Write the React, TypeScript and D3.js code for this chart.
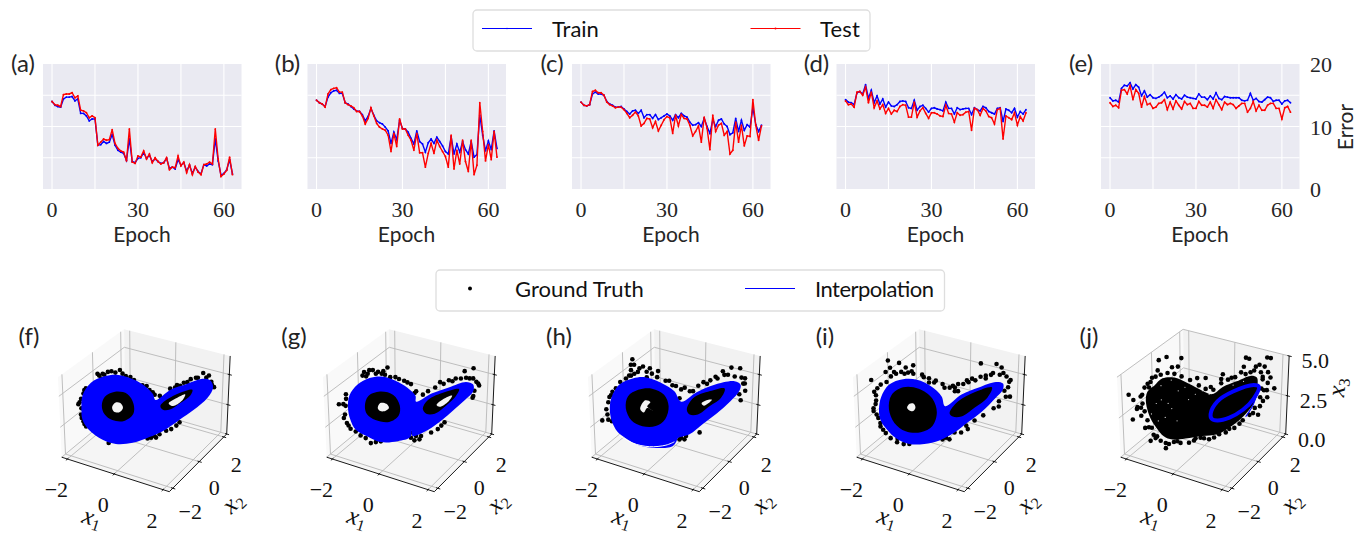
import React from 'react';
import * as d3 from 'd3';

const SANS = 'Lato, "Open Sans", "Noto Sans", sans-serif';
const SERIF = '"Liberation Serif", serif';

// ---------- Error curves, one value per epoch ----------
const trainA = [14.0,13.4,13.2,13.1,14.4,14.7,14.7,14.8,14.1,14.4,12.1,12.1,11.7,10.9,11.2,11.2,7.0,7.1,7.6,7.3,7.5,8.7,7.0,6.2,5.9,5.7,4.6,8.0,4.4,4.2,4.9,5.0,5.8,4.9,5.4,4.4,4.8,4.4,4.1,4.2,4.9,3.3,3.5,3.2,4.7,3.8,4.2,2.9,3.8,2.5,3.5,2.8,2.4,3.9,3.7,4.0,3.9,8.0,4.5,2.2,2.5,3.1,4.7,2.4];
const testA = [14.0,13.5,13.4,13.2,15.1,15.2,15.2,15.4,14.6,14.9,12.6,12.5,12.2,11.4,11.7,11.4,7.0,7.5,8.0,7.8,7.9,9.5,7.3,6.5,6.1,5.9,4.5,9.6,4.3,4.1,5.3,5.1,6.1,4.8,5.6,4.2,5.0,4.4,4.0,4.2,5.0,3.1,3.5,3.4,5.3,3.7,4.3,2.6,3.9,2.3,3.6,2.7,2.3,3.9,4.0,4.3,4.0,9.6,4.8,2.0,2.4,3.0,5.1,2.3];
const trainB = [14.2,13.8,13.6,13.2,14.7,15.4,15.7,15.8,15.3,15.3,13.8,13.6,13.2,12.8,12.5,12.4,11.9,10.9,11.6,12.9,11.8,10.9,10.6,10.4,9.9,9.3,7.3,9.1,7.9,11.0,9.7,9.6,9.1,8.1,7.2,9.3,7.6,7.2,5.9,7.4,8.0,7.3,8.3,7.6,6.9,6.0,5.6,8.4,5.6,7.2,5.9,7.6,6.3,5.6,7.6,5.1,5.5,11.8,8.6,6.1,7.7,6.3,9.3,6.5];
const testB = [14.2,13.8,13.6,13.1,15.2,15.9,16.1,16.2,15.5,15.5,13.8,13.5,13.3,13.0,12.4,12.4,11.7,10.4,11.3,13.0,11.7,10.5,9.9,9.6,9.4,8.6,6.0,8.9,6.8,11.2,9.6,9.6,8.6,7.8,6.2,8.9,5.8,5.8,3.5,5.7,7.3,5.7,7.8,6.8,6.0,5.2,3.5,8.6,3.2,6.2,4.0,7.8,4.4,2.8,7.8,2.3,3.8,13.8,9.2,4.5,7.1,4.7,9.2,5.1];
const trainC = [13.9,13.4,13.3,13.5,15.2,15.5,15.2,15.2,15.0,14.0,13.6,13.4,13.1,13.1,13.2,12.8,12.4,12.0,12.5,12.6,12.1,12.6,11.4,11.9,11.9,11.3,11.9,11.1,11.4,11.7,12.0,11.7,11.0,11.9,11.4,12.1,11.7,11.5,10.7,10.2,10.3,10.6,10.0,11.3,10.0,8.9,11.1,10.0,11.0,11.2,10.4,10.0,8.7,9.0,11.3,9.2,11.0,9.4,10.3,9.9,13.0,10.3,9.2,10.2];
const testC = [13.9,13.4,13.3,13.5,15.6,15.8,15.4,15.4,15.0,13.9,13.5,13.3,13.0,13.1,13.1,12.7,12.1,11.4,11.8,12.3,11.7,10.1,10.5,11.3,11.2,9.8,10.8,9.3,10.2,11.1,11.6,11.4,8.9,11.8,10.1,11.9,11.3,11.2,10.2,8.5,9.2,10.1,7.5,11.5,9.7,6.3,11.8,9.2,10.2,10.5,8.6,9.2,5.6,6.2,10.7,7.5,10.2,6.9,8.5,8.4,14.3,10.2,7.8,10.1];
const trainD = [14.3,13.9,13.8,13.5,15.4,15.6,15.2,16.7,14.5,15.8,13.8,14.9,13.6,14.4,13.1,13.9,13.3,13.2,13.5,14.0,14.1,14.0,13.0,12.9,14.2,12.6,13.2,13.4,12.9,12.3,12.9,13.0,12.8,12.7,12.5,13.9,12.9,12.9,12.0,13.0,12.7,12.8,12.9,12.9,11.9,13.0,12.7,12.5,13.2,13.0,12.4,12.2,12.0,12.9,13.0,10.8,12.8,12.6,12.2,12.9,11.5,12.4,12.0,12.7];
const testD = [14.1,13.5,13.6,13.1,15.5,15.6,15.0,16.3,13.8,15.5,13.0,14.1,12.8,13.5,12.1,12.9,12.0,12.6,12.4,13.2,13.5,13.4,11.5,11.5,13.9,11.5,12.5,13.0,12.1,11.3,12.2,12.2,12.0,11.7,11.6,13.4,12.1,12.0,10.7,12.2,11.8,11.9,12.3,12.4,9.4,12.9,12.7,11.8,12.9,12.5,11.6,11.4,10.4,12.7,12.9,8.0,11.7,11.4,11.1,12.2,10.2,11.6,10.9,12.2];
const trainE = [14.6,14.1,14.2,13.9,16.1,16.6,16.5,17.0,16.0,16.7,16.3,14.9,15.7,14.7,15.1,14.6,14.5,14.7,15.0,15.5,14.6,14.9,14.4,15.1,14.6,14.4,15.0,14.7,14.6,14.5,14.4,15.2,14.7,14.7,14.3,14.9,14.4,15.4,14.5,14.3,14.8,14.7,14.6,14.6,14.6,14.6,14.2,14.1,14.2,15.3,14.2,14.5,14.0,13.9,14.3,14.7,14.6,14.0,14.2,14.2,13.6,14.1,14.2,13.8];
const testE = [13.8,13.2,13.4,13.0,15.8,15.9,15.2,16.5,14.3,15.9,15.3,13.1,14.8,13.5,13.7,12.9,13.1,13.7,13.8,14.3,12.7,13.9,12.8,14.1,13.4,12.8,14.0,13.5,13.7,12.9,12.9,14.0,13.4,13.4,13.1,13.9,12.9,14.3,13.5,12.7,13.9,13.5,13.7,13.5,12.9,13.3,13.7,13.7,12.3,12.9,14.0,12.5,13.4,12.6,12.6,13.4,13.7,13.7,12.9,12.9,11.2,13.0,13.2,12.3];

const errorPanels = [
  { label: '(a)', train: trainA, test: testA },
  { label: '(b)', train: trainB, test: testB },
  { label: '(c)', train: trainC, test: testC },
  { label: '(d)', train: trainD, test: testD },
  { label: '(e)', train: trainE, test: testE },
];
const epochGrid = [0, 15, 30, 45, 60];
const epochLabels = [0, 30, 60];
const errorGrid = [5, 10, 15];
const errorLabels = [0, 10, 20];

// ---------- Attractor readings as [x1, x3] pairs, on the attractor's tilted sheet ----------
const fOuter = [[-2.01,3.09],[-1.96,4.23],[-1.69,5.23],[-1.27,5.74],[-.89,5.86],[-.47,5.57],[-.10,5.09],[.22,4.31],[.31,3.80],[.76,4.60],[1.29,5.09],[1.71,5.46],[1.98,5.37],[2.09,4.80],[1.93,3.94],[1.50,2.94],[1.07,2.14],[.65,1.37],[.12,.71],[-.41,.23],[-.95,.14],[-1.37,.51],[-1.80,1.37],[-1.99,2.23]];
const fHoleL = [[-1.37,3.37],[-1.27,4.09],[-.95,4.49],[-.57,4.31],[-.38,3.51],[-.39,2.66],[-.68,2.09],[-1.05,2.17],[-1.29,2.66]];
const fVoidL = [[-1.05,3.23],[-.95,3.6],[-.79,3.57],[-.71,3.17],[-.84,2.8],[-1,2.89]];
const fHoleR = [[.46,3.29],[.65,3.8],[1.07,4.37],[1.45,4.6],[1.39,4.14],[1.07,3.51],[.76,3.0],[.54,3.0]];
const fVoidR = [[.72,3.51],[.97,3.94],[1.23,4.23],[1.13,3.71],[.86,3.29]];
const fTruth = [[-1.43,5.8],[-1.32,5.94],[-1.16,6.09],[-1.05,6.14],[-.79,6.23],[-.71,5.94],[-.47,5.66],[-1.37,5.57],[-1.9,4.66],[-2.01,3.94],[-2.1,3.51],[-2.03,2.66],[-1.96,2.09],[-1.93,1.86],[-.1,5],[.12,4.6],[.22,4.43],[1.77,5.94],[1.95,5.74],[1.61,5.57],[1.39,5.46],[1.18,5.17],[1.07,4.94],[.91,4.8],[2.03,5.23],[2.12,4.8],[-1.18,.23],[.06,.6],[.17,.66],[.33,.66],[.81,1.37],[1.07,1.94],[.49,3.94],[.44,4.14],
  [-1.85,4.8],[-1.93,4.37],[-2.06,3.66],[-2.01,3.17],[-2.01,2.37],[-1.88,1.66],[-1.48,5.94],[-1.27,5.86],[-.93,6.03],[-.61,5.74],[-.36,5.43],[.03,4.94],[.28,4.23],[.76,4.71],[.97,5],[1.29,5.23],[1.55,5.57],[1.87,5.57],[2.05,5],[.12,.8],[.28,.8],[.44,.94],[.65,1.23],[.97,1.66]];

const gOuter = [[-1.96,3.23],[-1.9,4.23],[-1.64,5.09],[-1.27,5.6],[-.89,5.71],[-.47,5.37],[-.1,4.8],[.15,4.14],[.17,3.66],[.65,4.31],[1.18,4.8],[1.71,5.23],[1.93,5.03],[1.95,4.51],[1.71,3.8],[1.34,2.94],[.97,2.09],[.54,1.29],[.06,.8],[.03,1.29],[-.01,.71],[-.41,.37],[-.95,.31],[-1.37,.8],[-1.74,1.37],[-1.9,2.23]];
const gHoleL = [[-1.43,3.37],[-1.32,4.14],[-.95,4.51],[-.54,4.23],[-.34,3.37],[-.38,2.51],[-.68,2],[-1.11,2.17],[-1.37,2.66]];
const gVoidL = [[-1.03,3.17],[-.95,3.57],[-.76,3.51],[-.68,3.17],[-.84,2.89],[-.97,2.94]];
const gHoleR = [[.38,3.09],[.54,3.8],[1.07,4.43],[1.5,4.66],[1.41,4.09],[1.13,3.37],[.76,2.66],[.49,2.66]];
const gVoidR = [[.81,3.37],[1.02,3.86],[1.29,4.14],[1.18,3.66],[.91,3.23]];
const gTruth = [[-2.24,3.51],[-2.1,3.51],[-2.01,4.31],[-2.1,2.37],[-1.96,1.74],[-1.9,1.46],[-1.43,6.09],[-1.32,5.94],[-1.16,6.23],[-1,6.09],[-.71,6.43],[-.79,5.86],[-1.37,5.74],[-.47,5.66],[-.2,5.37],[.01,5.09],[.17,4.51],[.38,4.23],[.91,5.23],[1.18,5.37],[1.39,5.51],[1.66,6.09],[1.93,6.31],[1.82,5.51],[2.03,5.23],[2.12,4.94],[1.95,4.09],[-1.27,.23],[-.95,.37],[.01,.66],[.12,.43],[.33,.8],[.86,1.37],[1.07,1.94],[-1.59,.89],
  [-1.48,5.8],[-1.27,6.23],[-1.07,5.94],[-.89,5.94],[-.84,6.14],[-.63,5.66],[-.36,5.51],[-.1,5.23],[-2.01,3.94],[-2.03,3.37],[-2.06,2.66],[-2.01,1.94],[-1.74,1.23],[-1.43,.66],[-1.11,.31],[-.1,.8],[.17,.8],[.06,1.09],[.28,.51],[.65,1.09],[.97,1.66],[.76,4.8],[1.02,5.09],[1.29,5.29],[1.55,5.51],[1.71,5.57],[1.93,5.51],[2.09,5.09],[1.98,4.51],[1.93,3.94],[.54,4.51],[.12,4.37]];

const hOuter = [[-2.06,2.94],[-2.01,3.94],[-1.74,5.09],[-1.32,5.57],[-.95,5.66],[-.47,5.23],[-.04,4.51],[.17,3.66],[.65,4.43],[1.18,5],[1.82,5.29],[2.01,5],[1.98,4.51],[1.71,3.66],[1.29,2.66],[.86,1.8],[.44,.94],[.06,.6],[.03,.37],[-.1,-.06],[-.63,-.2],[-1.16,.03],[-1.59,.66],[-1.85,1.23],[-2.01,2.09]];
const hHoleL = [[-1.56,3.17],[-1.48,4.14],[-1.16,4.66],[-.73,4.74],[-.36,4.23],[-.22,3.29],[-.33,2.23],[-.63,1.66],[-1.05,1.66],[-1.39,2.14]];
const hVoidL = [[-1.11,3.09],[-.95,3.8],[-.79,3.66],[-.89,3.29],[-.71,2.94],[-.89,3.17],[-1,2.8]];
const hHoleR = [[.35,3],[.54,3.94],[1.07,4.51],[1.52,4.71],[1.41,3.94],[1.07,3.29],[.7,2.6],[.44,2.6]];
const hVoidR = [[.81,3.51],[1.02,3.8],[1.13,3.8],[1.02,3.51],[.88,3.31]];
const hGap = [[-1.8,.94],[-1.37,.23],[-.84,-.09],[-.31,.03],[-.04,.31]];
const hTruth = [[-1.32,7.09],[-1.27,6.66],[-1.37,6.23],[-1.43,5.8],[-1.16,6.09],[-1,6.51],[-.79,6.37],[-.54,6.14],[-.57,5.66],[-.31,5.37],[-.1,5],[.17,4.66],[.54,4.51],[.86,5.23],[1.07,5.37],[1.45,6.09],[1.71,6.37],[1.98,6.31],[1.5,5.8],[2.14,5.51],[2.09,5.09],[2.16,4.51],[2.03,3.74],[-1.71,5.29],[-1.96,4.51],[-2.06,4.09],[-2.17,3.09],[-2.31,2.17],[-2.12,2.23],[.17,.66],[.33,.8],[.76,1.09],[.12,3.94],[-1.37,5.8],
  [-1.37,6.66],[-1.11,6.37],[-.89,6.09],[-.73,5.94],[-.89,5.66],[-1.27,5.94],[-1.53,5.57],[-1.85,4.8],[-2.01,4.23],[-2.1,3.66],[-2.14,2.66],[-2.01,2.09],[-.2,5.37],[.01,4.94],[.28,4.8],[.44,4.51],[.7,4.94],[.97,5.09],[1.29,5.51],[1.61,5.8],[1.82,5.66],[2.03,5.57],[2.14,5.09],[1.98,4.23],[1.23,5.66],[.12,.51],[.28,.51]];

const iOuter = [[-1.93,3.09],[-1.85,4.09],[-1.59,5.09],[-1.16,5.51],[-.73,5.46],[-.31,4.94],[.03,4.09],[.14,3.29],[.65,4.23],[1.18,4.8],[1.71,5.23],[1.93,5.09],[1.93,4.6],[1.71,3.94],[1.29,2.8],[.86,1.94],[.44,1.09],[-.04,.43],[-.52,.14],[-1,.14],[-1.43,.66],[-1.74,1.51],[-1.9,2.23]];
const iHoleL = [[-1.62,3.09],[-1.53,4.23],[-1.16,4.86],[-.68,4.74],[-.26,3.94],[-.12,2.8],[-.26,1.66],[-.63,1.14],[-1.11,1.23],[-1.46,1.94]];
const iVoidL = [[-1.05,3.17],[-.97,3.51],[-.84,3.51],[-.79,3.17],[-.89,2.89]];
const iHoleR = [[.28,2.71],[.54,3.66],[1.07,4.43],[1.59,4.8],[1.45,3.94],[1.07,3.17],[.65,2.43],[.38,2.43]];
const iTruth = [[-1.61,7],[-1.55,6.43],[-1.27,6.8],[-1.07,6.43],[-.84,6.6],[-.89,6.14],[-1.11,5.94],[-1.67,5.29],[-2.14,5.46],[-1.43,6.09],[-.52,5.66],[-.2,5.23],[.12,4.8],[.38,4.94],[.86,5.23],[1.07,5.37],[1.23,6.71],[1.71,6.66],[1.87,6.37],[1.93,5.94],[1.55,5.8],[2.16,5.37],[2.09,4.8],[2.16,4.03],[1.82,3.23],[-2.06,4.51],[-2.01,3.8],[-2.1,3.17],[-1.96,2.37],[-1.9,1.66],[-1.74,1.09],[-1.39,.31],[-1.18,.14],[-1,.14],[.06,.51],[.28,.51],[.65,1.09],[.86,1.37],[1.34,2.51],[.54,4.51],[.54,5.09],[1.39,5.51],
  [-1.69,6.09],[-1.53,5.74],[-1.37,5.94],[-1.21,6.09],[-1,6.03],[-.84,5.94],[-.57,5.86],[-.36,5.57],[-.15,5.37],[.06,5.09],[.28,4.8],[.44,4.51],[.7,5.09],[.97,5.51],[1.23,5.66],[1.39,5.74],[1.61,5.94],[1.82,5.8],[2.03,5.66],[2.12,5.23],[1.98,4.51],[2.03,4.03],[1.82,3.66],[1.66,3.09],[-1.96,4.8],[-1.85,5.09],[-2.01,4.23],[-2.03,3.51],[-2.1,2.94],[-2.01,2.66],[-1.9,1.94],[-1.82,1.37],[-1.59,.66],[-1.37,.6],[.01,.8],[.17,.66],[.44,1.09],[.81,1.66],[1.07,2.09],[.44,4.8],[.81,5.37],[-.36,5.23]];

const jCloud = [[-1.56,3.84],[-1.3,4.29],[-.93,4.33],[-.5,3.96],[-.07,3.51],[.24,3.29],[.56,3.73],[.99,4.07],[1.41,4.4],[1.61,4.29],[1.63,3.62],[1.57,2.84],[1.31,2.07],[.88,1.29],[.4,.73],[-.07,.62],[-.61,.47],[-1.03,.4],[-1.3,.62],[-1.51,1.13],[-1.69,1.73],[-1.8,2.4],[-1.83,3.07],[-1.76,3.51]];
const jTruth = [[-2.36,3.29],[-2.22,2.96],[-2.1,2.51],[-2.26,1.73],[-1.72,.33],[-1.24,.18],[-1.24,-.16],[-.98,.24],[-.5,.18],[-.13,.51],[-1.4,5.4],[-1.16,5.58],[-.71,5.51],[-1,4.96],[-.82,5],[-1.62,4.33],[-1.44,4.78],[-1.72,3.73],[-1.99,3.18],[-2.12,2.4],[-1.99,1.96],[-1.88,1.18],[-1.56,.51],[1.26,5.51],[1.36,5.44],[1.91,5.51],[2.02,5.47],[1.2,4.96],[1.12,4.62],[.83,4.29],[.56,4.51],[.03,4.29],[-.23,4.29],[.19,3.73],[1.68,5.07],[1.84,4.96],[1.95,4.62],[2.03,4.29],[2.16,3.62],[1.95,3.07],[1.73,2.51],[1.68,1.96],[1.84,3.51],[1.52,2.07],[1.1,1.4],[.78,1.07],[.46,.73],[.14,.4],[.3,1.18],
  [-1.67,4.07],[-1.51,4.4],[-1.35,4.51],[-1.14,4.62],[-.93,4.56],[-.71,4.4],[-.45,4.18],[-.18,3.84],[.03,3.62],[.27,3.56],[.51,3.96],[.72,4.18],[.94,4.33],[1.26,4.51],[1.52,4.73],[1.73,4.62],[1.79,4.18],[1.76,3.62],[1.73,3.07],[1.57,2.4],[1.41,1.96],[1.2,1.62],[.94,1.13],[.67,.84],[.3,.51],[-.02,.47],[-.34,.33],[-.77,.18],[-1.14,.11],[-1.4,.33],[-1.51,.62],[-1.67,1.18],[-1.8,1.67],[-1.88,2.24],[-1.94,2.73],[-1.94,3.29],[-1.86,3.73],[-1.76,3.96],[-1.99,2.47],[-1.76,1.22],[-1.62,.73],[-.87,.29],[-.29,.47],[.51,4.22],[1.41,4.62],[1.57,4.96],[1.79,4.33],[1.95,3.96],[1.93,3.51],[1.82,2.84]];
const jSpecks = [[-1.14,2.73],[-1.03,2.4],[-1.35,2.96],[-.82,3.51],[-.61,3.73],[-.34,3.84],[-.29,3.29],[-.07,3.51],[-.5,2.96],[-1.24,1.84],[-.87,1.62],[-1.51,2.73],[-1.35,3.84],[-1.03,4.18],[.14,3.29],[.46,3.84],[.88,3.84],[1.2,4.07],[-1.46,1.62],[-1.67,2.07]];
const jLoop = [[.19,2.07],[.4,2.84],[.88,3.44],[1.52,3.84],[1.68,3.73],[1.52,2.96],[1.2,2.29],[.78,1.8],[.4,1.62],[.22,1.73]];
const jTail = [[1.68,3.73],[1.52,2.62],[1.29,1.84]];

const sheetSlope = 0.6; // x2 = sheetSlope * x1 on the sheet the readings lie on
const axisTicks = [-2, 0, 2];
const x3Ticks = [0, 2.5, 5];

const phasePanels = [
  { label: '(f)', off: 0, lx: 29, zMax: 6.5, truth: fTruth, outer: fOuter, holes: [fHoleL, fHoleR], voids: [fVoidL, fVoidR] },
  { label: '(g)', off: 265, lx: 294, zMax: 6.5, truth: gTruth, outer: gOuter, holes: [gHoleL, gHoleR], voids: [gVoidL, gVoidR] },
  { label: '(h)', off: 530, lx: 559, zMax: 6.5, truth: hTruth, outer: hOuter, holes: [hHoleL, hHoleR], voids: [hVoidL, hVoidR], gap: hGap },
  { label: '(i)', off: 795, lx: 825, zMax: 6.5, truth: iTruth, outer: iOuter, holes: [iHoleL, iHoleR], voids: [iVoidL] },
  { label: '(j)', off: 1059, lx: 1089, zMax: 5, truth: jTruth, cloud: jCloud, specks: jSpecks, loop: jLoop, tail: jTail, showZ: true },
];

// ---------- mplot3d style camera ----------
const AZ = (-60 * Math.PI) / 180;
const EL = (30 * Math.PI) / 180;
const DIST = 10;
const LIM = 2.25;
const BOX = [1.143, 1.143, 0.857];
const center = BOX.map((b) => b / 2);
const eye = [
  center[0] + DIST * Math.cos(EL) * Math.cos(AZ),
  center[1] + DIST * Math.cos(EL) * Math.sin(AZ),
  center[2] + DIST * Math.sin(EL),
];
const nrm = (v: number[]) => { const l = Math.hypot(v[0], v[1], v[2]); return v.map((c) => c / l); };
const cross = (a: number[], b: number[]) => [a[1]*b[2]-a[2]*b[1], a[2]*b[0]-a[0]*b[2], a[0]*b[1]-a[1]*b[0]];
const dot = (a: number[], b: number[]) => a[0]*b[0]+a[1]*b[1]+a[2]*b[2];
const camN = nrm([eye[0]-center[0], eye[1]-center[1], eye[2]-center[2]]);
const camU = nrm(cross([0, 0, 1], camN));
const camV = cross(camN, camU);
const cam = (b: number[]) => {
  const d = [b[0]-eye[0], b[1]-eye[1], b[2]-eye[2]];
  const w = -dot(d, camN);
  return [dot(d, camU) * DIST / w, dot(d, camV) * DIST / w];
};
const pxX = d3.scaleLinear().domain([cam([0, 0, 0])[0], cam([BOX[0], BOX[1], 0])[0]]).range([61.7, 226.7]);
const pxY = d3.scaleLinear().domain([cam([BOX[0], 0, 0])[1], cam([0, BOX[1], BOX[2]])[1]]).range([491.7, 329.3]);

function makeProj(off: number, zMax: number) {
  const sx = d3.scaleLinear().domain([-LIM, LIM]).range([0, BOX[0]]);
  const sy = d3.scaleLinear().domain([-LIM, LIM]).range([0, BOX[1]]);
  const sz = d3.scaleLinear().domain([0, zMax]).range([0, BOX[2]]);
  return (x: number, y: number, z: number): [number, number] => {
    const c = cam([sx(x), sy(y), sz(z)]);
    return [pxX(c[0]) + off, pxY(c[1])];
  };
}

const smoothClosed = d3.line().curve(d3.curveCatmullRomClosed.alpha(0.5));
const smoothOpen = d3.line().curve(d3.curveCatmullRom.alpha(0.5));
const straight = d3.line();

function Phase({ p }: { p: any }) {
  const P = makeProj(p.off, p.zMax);
  const S = (pair: number[]) => P(pair[0], pair[0] * sheetSlope, pair[1]);
  const L = LIM, Z = p.zMax;
  const poly = (pts: [number, number, number][]) => straight(pts.map((q) => P(q[0], q[1], q[2]))) + 'Z';
  const open = (pts: [number, number, number][]) => straight(pts.map((q) => P(q[0], q[1], q[2])));
  const num = { fontFamily: SERIF, fontSize: 22, fill: '#111', textAnchor: 'middle' } as any;
  const fmt = (v: number) => (v < 0 ? '\u2212' + Math.abs(v) : String(v));
  const math = { fontFamily: SERIF, fontStyle: 'italic', fontSize: 25, textAnchor: 'middle', fill: '#111' } as any;
  return (
    <g>
      <path d={poly([[-L,-L,0],[-L,L,0],[-L,L,Z],[-L,-L,Z]])} fill="#f9f9f9" />
      <path d={poly([[-L,L,0],[L,L,0],[L,L,Z],[-L,L,Z]])} fill="#f2f2f2" />
      <path d={poly([[-L,-L,0],[L,-L,0],[L,L,0],[-L,L,0]])} fill="#f5f5f5" />
      <g fill="none" stroke="#b8b8b8" strokeWidth={0.9}>
        {axisTicks.map((t) => <path key={'x' + t} d={open([[t,-L,0],[t,L,0],[t,L,Z]])} />)}
        {axisTicks.map((t) => <path key={'y' + t} d={open([[L,t,0],[-L,t,0],[-L,t,Z]])} />)}
        {x3Ticks.map((t) => <path key={'z' + t} d={open([[-L,-L,t],[-L,L,t],[L,L,t]])} />)}
      </g>
      <g fill="none" stroke="#000" strokeWidth={0.9}>
        <path d={open([[-L,-L,0],[L,-L,0]])} />
        <path d={open([[L,-L,0],[L,L,0]])} />
        <path d={open([[L,L,0],[L,L,Z]])} />
        {axisTicks.map((t) => <path key={'tx' + t} d={open([[t,-L-0.1,0],[t,-L+0.07,0]])} />)}
        {axisTicks.map((t) => <path key={'ty' + t} d={open([[L+0.1,t,0],[L-0.07,t,0]])} />)}
        {x3Ticks.map((t) => <path key={'tz' + t} d={open([[L+0.1,L,t],[L-0.07,L,t]])} />)}
      </g>
      {p.cloud && <path d={smoothClosed(p.cloud.map(S)) as string} fill="#000" />}
      {p.truth.map((q: number[], i: number) => {
        const c = S(q);
        return <circle key={i} cx={c[0]} cy={c[1]} r={2.3} fill="#000" />;
      })}
      {(p.specks || []).map((q: number[], i: number) => {
        const c = S(q);
        return <circle key={i} cx={c[0]} cy={c[1]} r={0.6} fill="#ddd" />;
      })}
      {p.outer && <path d={smoothClosed(p.outer.map(S)) as string} fill="#0000ff" />}
      {p.gap && <path d={smoothOpen(p.gap.map(S)) as string} fill="none" stroke="#fff" strokeWidth={1} />}
      {(p.holes || []).map((h: number[][], i: number) => <path key={i} d={smoothClosed(h.map(S)) as string} fill="#000" />)}
      {(p.voids || []).map((h: number[][], i: number) => <path key={i} d={smoothClosed(h.map(S)) as string} fill="#f4f4f4" />)}
      {p.loop && <path d={smoothClosed(p.loop.map(S)) as string} fill="none" stroke="#0000ff" strokeWidth={4} />}
      {p.tail && <path d={smoothOpen(p.tail.map(S)) as string} fill="none" stroke="#0000ff" strokeWidth={1.2} />}
      {axisTicks.map((t) => {
        const c = P(t, -L, 0);
        return <text key={'lx' + t} x={c[0] - 11} y={c[1] + 38} {...num}>{fmt(t)}</text>;
      })}
      {axisTicks.map((t) => {
        const c = P(L, t, 0);
        return <text key={'ly' + t} x={c[0] + 15 - t * 1.25} y={c[1] + 33 + t} {...num}>{fmt(t)}</text>;
      })}
      {p.showZ && x3Ticks.map((t) => {
        const c = P(L, L, t);
        return <text key={'lz' + t} x={c[0] + 26} y={c[1] + 12.5} {...num}>{t.toFixed(1)}</text>;
      })}
      <text transform={`translate(${p.off + 90},${525}) rotate(17)`} {...math}>
        x<tspan fontSize={16} dy={4} fontStyle="normal">1</tspan>
      </text>
      <text transform={`translate(${p.off + 238},${508}) rotate(-44)`} {...math}>
        x<tspan fontSize={16} dy={4} fontStyle="normal">2</tspan>
      </text>
      {p.showZ && (
        <text transform={`translate(${p.off + 286},${388}) rotate(-84)`} {...math}>
          x<tspan fontSize={16} dy={4} fontStyle="normal">3</tspan>
        </text>
      )}
      <text x={p.lx} y={345} fontFamily={SANS} fontSize={24} textAnchor="middle" fill="#222">{p.label}</text>
    </g>
  );
}

function ErrorPanel({ p, i }: { p: any; i: number }) {
  const left = 43 + i * 264.5;
  const x = d3.scaleLinear().domain([-3.15, 66.15]).range([left, left + 198.5]);
  const y = d3.scaleLinear().domain([0, 20]).range([189, 64]);
  const line = d3.line<number>().x((_, k) => x(k)).y((v) => y(v));
  return (
    <g>
      <rect x={left} y={64} width={198.5} height={125} fill="#eaeaf2" />
      {epochGrid.map((t) => <line key={t} x1={x(t)} x2={x(t)} y1={64} y2={189} stroke="#fff" strokeWidth={1.1} />)}
      {errorGrid.map((t) => <line key={t} x1={left} x2={left + 198.5} y1={y(t)} y2={y(t)} stroke="#fff" strokeWidth={1.1} />)}
      <path d={line(p.train) as string} fill="none" stroke="#0000ff" strokeWidth={1.4} />
      {p.train.map((v: number, k: number) => <circle key={k} cx={x(k)} cy={y(v)} r={0.9} fill="#0000ff" />)}
      <path d={line(p.test) as string} fill="none" stroke="#ff0000" strokeWidth={1.4} />
      {p.test.map((v: number, k: number) => <circle key={k} cx={x(k)} cy={y(v)} r={0.9} fill="#ff0000" />)}
      {epochLabels.map((t) => (
        <text key={t} x={x(t)} y={217} fontFamily={SERIF} fontSize={22} textAnchor="middle" fill="#262626">{t}</text>
      ))}
      <text x={left + 99} y={242} fontFamily={SANS} fontSize={21} textAnchor="middle" fill="#262626">Epoch</text>
      <text x={left - 20} y={72} fontFamily={SANS} fontSize={24} textAnchor="middle" fill="#262626">{p.label}</text>
      {i === 4 && errorLabels.map((t) => (
        <text key={t} x={left + 209} y={y(t) + 8} fontFamily={SERIF} fontSize={22} fill="#262626">{t}</text>
      ))}
      {i === 4 && (
        <text transform="translate(1353,127) rotate(-90)" fontFamily={SANS} fontSize={21} textAnchor="middle" fill="#262626">Error</text>
      )}
    </g>
  );
}

function Legends() {
  const t = { fontFamily: SANS, fontSize: 22, fill: '#111' } as any;
  return (
    <g>
      <rect x={473} y={10} width={397} height={41} rx={4} fill="#fff" stroke="#dedede" strokeWidth={1.3} />
      <line x1={482} x2={532} y1={28.5} y2={28.5} stroke="#0000ff" strokeWidth={1.1} />
      <circle cx={507} cy={28.5} r={0.8} fill="#0000ff" />
      <text x={552} y={37} {...t}>Train</text>
      <line x1={750.5} x2={800.5} y1={28.5} y2={28.5} stroke="#ff0000" strokeWidth={1.1} />
      <circle cx={775.5} cy={28.5} r={1} fill="#ff0000" />
      <text x={820} y={37} textLength={40} {...t}>Test</text>
      <rect x={436} y={270} width={508.5} height={41} rx={4} fill="#fff" stroke="#dedede" strokeWidth={1.3} />
      <circle cx={470} cy={288.5} r={2} fill="#000" />
      <text x={515} y={297} {...t}>Ground Truth</text>
      <line x1={745} x2={795} y1={288.5} y2={288.5} stroke="#0000ff" strokeWidth={1.1} />
      <text x={815} y={297} textLength={119} {...t}>Interpolation</text>
    </g>
  );
}

export default function App() {
  return (
    <svg width={1364} height={537} style={{ position: 'absolute', left: 0, top: 0, background: '#fff' }}>
      {phasePanels.map((p) => <Phase key={p.label} p={p} />)}
      {errorPanels.map((p, i) => <ErrorPanel key={p.label} p={p} i={i} />)}
      <Legends />
    </svg>
  );
}
